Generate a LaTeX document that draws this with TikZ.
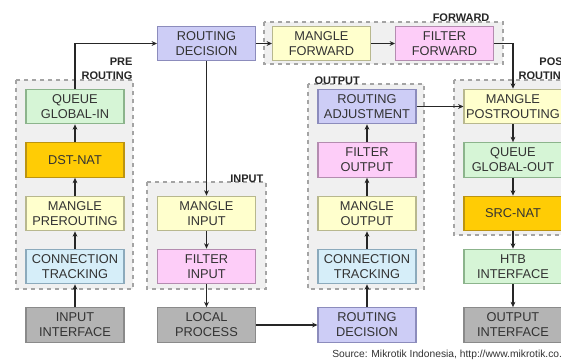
\documentclass[tikz,border=0pt]{standalone}
\usepackage{fontspec}
\setmainfont{Liberation Sans}
\usepackage{tikz}
\usetikzlibrary{arrows.meta,positioning}

\definecolor{routefill}{HTML}{CDCDF6}
\definecolor{routeline}{HTML}{8C8CBC}
\definecolor{manglefill}{HTML}{FFFFCD}
\definecolor{mangleline}{HTML}{B8B88E}
\definecolor{filterfill}{HTML}{FDCDF8}
\definecolor{filterline}{HTML}{B48CB0}
\definecolor{queuefill}{HTML}{D6F5D6}
\definecolor{queueline}{HTML}{8CB48C}
\definecolor{natfill}{HTML}{FFCC05}
\definecolor{natline}{HTML}{BC9410}
\definecolor{connfill}{HTML}{D6EEF9}
\definecolor{connline}{HTML}{8CAABC}
\definecolor{ifacefill}{HTML}{B4B4B4}
\definecolor{ifaceline}{HTML}{8A8A8A}
\definecolor{chainfill}{HTML}{F0F0F0}
\definecolor{chainline}{HTML}{A4A4A4}
\definecolor{labeltext}{HTML}{333333}

\tikzset{
    box/.style={draw, line width=0.8pt, minimum width=73.5pt, minimum height=26pt,
        inner sep=0pt, align=center, text=labeltext,
        font=\fontsize{9.6}{11.25}\selectfont},
    routebox/.style={box, fill=routefill, draw=routeline},
    manglebox/.style={box, fill=manglefill, draw=mangleline},
    filterbox/.style={box, fill=filterfill, draw=filterline},
    queuebox/.style={box, fill=queuefill, draw=queueline},
    natbox/.style={box, fill=natfill, draw=natline},
    connbox/.style={box, fill=connfill, draw=connline},
    ifacebox/.style={box, fill=ifacefill, draw=ifaceline},
    chain/.style={fill=chainfill, draw=chainline, dashed, line width=0.8pt},
    chainlabel/.style={inner sep=1pt, align=right, text=black!85,
        font=\fontsize{8.25}{10.5}\selectfont\bfseries},
    flow/.style={draw=black!85, line width=0.9pt, -{Stealth[length=4pt,width=3.6pt]}}
}

\begin{document}
\begin{tikzpicture}[x=0.75pt,y=0.75pt,yscale=-1,xscale=1]
    \clip (0,0) rectangle (561,363);
    \fill[white] (0,0) rectangle (561,363);

    %Chains
    \draw[chain] (16,80) rectangle (133,289);
    \draw[chain] (147,182) rectangle (266,289);
    \draw[chain] (308,84) rectangle (424,289);
    \draw[chain] (264,22) rectangle (503,64);
    \draw[chain] (454,80) rectangle (580,235);
    \node[chainlabel, anchor=south east] (prelbl) at (134,81) {PRE\\ROUTING};
    \node[chainlabel, anchor=south east] (inlbl) at (265,184) {INPUT};
    \node[chainlabel, anchor=south west, align=left] (outlbl) at (313,86) {OUTPUT};
    \node[chainlabel, anchor=south east] (fwdlbl) at (491,23) {FORWARD};
    \node[chainlabel, anchor=south east] (postlbl) at (571,81) {POST\\ROUTING};

    %Prerouting
    \node[ifacebox] (inif) at (75,325) {INPUT\\INTERFACE};
    \node[connbox] (conntrk) at (75,266.5) {CONNECTION\\TRACKING};
    \node[manglebox] (manpre) at (75,213.5) {MANGLE\\PREROUTING};
    \node[natbox] (dstnat) at (75,160) {DST-NAT};
    \node[queuebox] (qin) at (75,106.5) {QUEUE\\GLOBAL-IN};

    %Input
    \node[routebox] (route) at (206.5,43.5) {ROUTING\\DECISION};
    \node[manglebox] (manin) at (206.5,213.5) {MANGLE\\INPUT};
    \node[filterbox] (filin) at (206.5,266.5) {FILTER\\INPUT};
    \node[ifacebox] (local) at (206.5,325) {LOCAL\\PROCESS};

    %Forward
    \node[manglebox] (manfwd) at (321.5,43.5) {MANGLE\\FORWARD};
    \node[filterbox] (filfwd) at (444.5,43.5) {FILTER\\FORWARD};

    %Output
    \node[routebox] (outroute) at (367,325) {ROUTING\\DECISION};
    \node[connbox] (outconn) at (367,266.5) {CONNECTION\\TRACKING};
    \node[manglebox] (manout) at (367,213.5) {MANGLE\\OUTPUT};
    \node[filterbox] (filout) at (367,160) {FILTER\\OUTPUT};
    \node[routebox] (adjust) at (367,106.5) {ROUTING\\ADJUSTMENT};

    %Postrouting
    \node[manglebox] (manpost) at (513,106.5) {MANGLE\\POSTROUTING};
    \node[queuebox] (qout) at (513,160) {QUEUE\\GLOBAL-OUT};
    \node[natbox] (srcnat) at (513,213.5) {SRC-NAT};
    \node[queuebox] (htb) at (513,266.5) {HTB\\INTERFACE};
    \node[ifacebox] (outif) at (513,325) {OUTPUT\\INTERFACE};

    %Packet flow
    \draw[flow] (inif) -- (conntrk);
    \draw[flow] (conntrk) -- (manpre);
    \draw[flow] (manpre) -- (dstnat);
    \draw[flow] (dstnat) -- (qin);
    \draw[flow] (qin.north) |- (route.west);
    \draw[flow] (route) -- (manfwd);
    \draw[flow] (manfwd) -- (filfwd);
    \draw[flow] (filfwd.east) -| (manpost.north);
    \draw[flow] (route) -- (manin);
    \draw[flow] (manin) -- (filin);
    \draw[flow] (filin) -- (local);
    \draw[flow] (local) -- (outroute);
    \draw[flow] (outroute) -- (outconn);
    \draw[flow] (outconn) -- (manout);
    \draw[flow] (manout) -- (filout);
    \draw[flow] (filout) -- (adjust);
    \draw[flow] (adjust) -- (manpost);
    \draw[flow] (manpost) -- (qout);
    \draw[flow] (qout) -- (srcnat);
    \draw[flow] (srcnat) -- (htb);
    \draw[flow] (htb) -- (outif);

    \node[anchor=base west, inner sep=0pt, text=black!80, font=\fontsize{7.7}{9}\selectfont]
        (source) at (332,358) {Source: Mikrotik Indonesia, http://www.mikrotik.co.id};
\end{tikzpicture}
\end{document}
